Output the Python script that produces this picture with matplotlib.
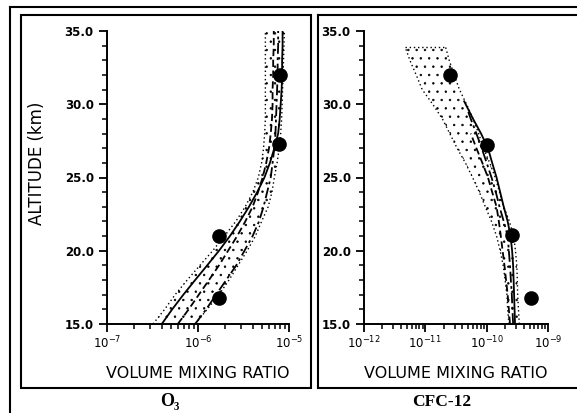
import matplotlib
matplotlib.use('Agg')
import matplotlib.pyplot as plt
from matplotlib.lines import Line2D
from matplotlib.patches import Rectangle
from matplotlib.ticker import LogLocator, MultipleLocator, FormatStrFormatter, NullFormatter

# ── O3 panel (altitude 15..35 km, every km) ──
o3_alt = list(range(15, 36))
o3_band_lo = [3.2e-7, 4.3e-7, 5.6e-7, 7.6e-7, 1.05e-6, 1.45e-6, 1.95e-6, 2.6e-6, 3.3e-6, 4.0e-6,
              4.6e-6, 5.0e-6, 5.25e-6, 5.4e-6, 5.5e-6, 5.5e-6, 5.5e-6, 5.5e-6, 5.5e-6, 5.5e-6, 5.5e-6]
o3_band_hi = [9.3e-7, 1.26e-6, 1.7e-6, 2.19e-6, 2.75e-6, 3.47e-6, 4.27e-6, 5.0e-6, 5.9e-6, 6.5e-6,
              6.9e-6, 7.4e-6, 7.8e-6, 8.1e-6, 8.3e-6, 8.4e-6, 8.5e-6, 8.6e-6, 8.7e-6, 8.8e-6, 8.9e-6]
o3_solid = [4.0e-7, 5.2e-7, 6.9e-7, 9.3e-7, 1.26e-6, 1.7e-6, 2.24e-6, 2.88e-6, 3.63e-6, 4.47e-6,
            5.37e-6, 6.17e-6, 6.9e-6, 7.6e-6, 7.9e-6, 8.1e-6, 8.3e-6, 8.4e-6, 8.4e-6, 8.5e-6, 8.5e-6]
o3_dashed = [6.0e-7, 7.9e-7, 1.02e-6, 1.32e-6, 1.7e-6, 2.14e-6, 2.69e-6, 3.31e-6, 3.98e-6, 4.57e-6,
             5.13e-6, 5.62e-6, 6.03e-6, 6.3e-6, 6.5e-6, 6.6e-6, 6.6e-6, 6.7e-6, 6.7e-6, 6.8e-6, 6.8e-6]
o3_dashdot = [9.3e-7, 1.23e-6, 1.58e-6, 2.04e-6, 2.63e-6, 3.24e-6, 3.98e-6, 4.68e-6, 5.25e-6, 5.75e-6,
              6.3e-6, 6.6e-6, 6.9e-6, 7.1e-6, 7.2e-6, 7.3e-6, 7.4e-6, 7.5e-6, 7.5e-6, 7.6e-6, 7.6e-6]
o3_obs_alt = [32.0, 27.3, 21.0, 16.8]
o3_obs = [8.0e-6, 7.8e-6, 1.7e-6, 1.7e-6]

# ── CFC-12 panel ──
cfc_alt = [15, 16, 17, 18, 19, 20, 21, 22, 23, 24, 25, 26, 27, 28, 29, 30, 31, 32, 33, 33.9]
cfc_band_lo = [2.3e-10, 2.2e-10, 2.14e-10, 2.0e-10, 1.86e-10, 1.66e-10, 1.45e-10, 1.2e-10, 9.5e-11, 7.6e-11,
               5.9e-11, 4.5e-11, 3.3e-11, 2.5e-11, 1.9e-11, 1.32e-11, 8.9e-12, 7.1e-12, 5.6e-12, 4.7e-12]
cfc_band_hi = [3.4e-10, 3.3e-10, 3.2e-10, 3.16e-10, 3.1e-10, 2.95e-10, 2.75e-10, 2.35e-10, 1.9e-10, 1.62e-10,
               1.38e-10, 1.12e-10, 8.9e-11, 7.4e-11, 6.0e-11, 4.7e-11, 3.6e-11, 2.95e-11, 2.45e-11, 2.14e-11]
cfc_solid_alt = [15, 16, 17, 18, 19, 20, 21, 22, 23, 24, 25, 26, 27, 28, 29, 30.2]
cfc_solid = [2.9e-10, 2.85e-10, 2.8e-10, 2.75e-10, 2.7e-10, 2.6e-10, 2.45e-10, 2.2e-10, 1.9e-10, 1.66e-10,
             1.45e-10, 1.23e-10, 1.05e-10, 8.1e-11, 6.0e-11, 4.3e-11]
cfc_dashed_alt = [15, 16, 17, 18, 19, 20, 21, 22, 23, 24, 25, 26, 27, 28]
cfc_dashed = [2.4e-10, 2.3e-10, 2.2e-10, 2.07e-10, 1.95e-10, 1.82e-10, 1.7e-10, 1.58e-10, 1.45e-10, 1.23e-10,
              1.05e-10, 8.5e-11, 6.8e-11, 5.5e-11]
cfc_dashdot_alt = [15, 16, 17, 18, 19, 20, 21, 22, 23, 24, 25, 26, 27, 28, 29, 29.7]
cfc_dashdot = [2.7e-10, 2.63e-10, 2.57e-10, 2.48e-10, 2.4e-10, 2.3e-10, 2.2e-10, 1.9e-10, 1.62e-10, 1.41e-10,
               1.2e-10, 1.0e-10, 8.3e-11, 6.8e-11, 5.5e-11, 4.8e-11]
cfc_obs_alt = [32.0, 27.25, 21.05, 16.8]
cfc_obs = [2.5e-11, 1.0e-10, 2.6e-10, 5.2e-10]

W, H = 577, 413
DOT = (0, (1, 2))
DASH = (0, (4, 2))
DASHDOT = (0, (6, 2, 1.5, 2))


def px(x, y):
    # pixel position -> figure fraction
    return x / W, 1 - y / H


def style_axes(ax, xmin, xmax):
    ax.set_xscale('log')
    ax.set_xlim(xmin, xmax)
    ax.set_ylim(15, 35)
    for s in ('top', 'right'):
        ax.spines[s].set_visible(False)
    for s in ('left', 'bottom'):
        ax.spines[s].set_linewidth(1.4)
    ax.xaxis.set_major_locator(LogLocator(base=10, numticks=10))
    ax.xaxis.set_minor_locator(LogLocator(base=10, subs=range(2, 10), numticks=10))
    ax.xaxis.set_minor_formatter(NullFormatter())
    ax.xaxis.get_offset_text().set_visible(False)
    ax.yaxis.get_offset_text().set_visible(False)
    ax.yaxis.set_major_locator(MultipleLocator(5))
    ax.yaxis.set_minor_locator(MultipleLocator(1))
    ax.yaxis.set_major_formatter(FormatStrFormatter('%.1f'))
    ax.tick_params(which='major', direction='out', length=6, width=1.3, labelsize=8.5)
    ax.tick_params(which='minor', direction='out', length=3.5, width=1.1)
    ax.tick_params(axis='x', which='major', labelsize=8.5, pad=2)
    for lab in ax.get_yticklabels():
        lab.set_fontweight('bold')


def draw_panel(ax, alt, lo, hi, lines, obs, obs_alt):
    ax.fill_betweenx(alt, lo, hi, facecolor='none', edgecolor='black',
                     linewidth=0, hatch='..')
    ax.plot(lo, alt, color='black', linestyle=DOT, linewidth=1.0)
    ax.plot(hi, alt, color='black', linestyle=DOT, linewidth=1.0)
    for xs, ys, ls in lines:
        ax.plot(xs, ys, color='black', linestyle=ls, linewidth=1.3)
    ax.plot(obs, obs_alt, 'o', color='black', markersize=9.5, clip_on=False)


plt.rcParams['hatch.linewidth'] = 0.5
plt.rcParams['font.family'] = 'DejaVu Sans'

fig = plt.figure(figsize=(W / 100, H / 100), dpi=100)

# frames
frame_kw = dict(color='black', linewidth=1.5)
ox, oy = px(10, 7)
fig.add_artist(Line2D([ox, 1], [oy, oy], **frame_kw))
fig.add_artist(Line2D([ox, ox], [oy, 0], **frame_kw))
x0, y0 = px(21, 388)
x1, y1 = px(311, 15)
fig.add_artist(Rectangle((x0, y0), x1 - x0, y1 - y0, fill=False, linewidth=1.5,
                         edgecolor='black', transform=fig.transFigure))
x2, _ = px(318, 0)
fig.add_artist(Line2D([x2, x2], [y0, y1], **frame_kw))
fig.add_artist(Line2D([x2, 1], [y1, y1], **frame_kw))
fig.add_artist(Line2D([x2, 1], [y0, y0], **frame_kw))

bottom = 1 - 324 / H
height = (324 - 31) / H
ax1 = fig.add_axes([107 / W, bottom, (289 - 107) / W, height])
ax2 = fig.add_axes([364 / W, bottom, (548 - 364) / W, height])

draw_panel(ax1, o3_alt, o3_band_lo, o3_band_hi,
           [(o3_solid, o3_alt, '-'),
            (o3_dashed, o3_alt, DASH),
            (o3_dashdot, o3_alt, DASHDOT)],
           o3_obs, o3_obs_alt)
# flat top of the CFC-12 band
ax2.plot([cfc_band_lo[-1], cfc_band_hi[-1]], [cfc_alt[-1], cfc_alt[-1]],
         color='black', linestyle=DOT, linewidth=1.0)
draw_panel(ax2, cfc_alt, cfc_band_lo, cfc_band_hi,
           [(cfc_solid, cfc_solid_alt, '-'),
            (cfc_dashed, cfc_dashed_alt, DASH),
            (cfc_dashdot, cfc_dashdot_alt, DASHDOT)],
           cfc_obs, cfc_obs_alt)

style_axes(ax1, 1e-7, 1e-5)
style_axes(ax2, 1e-12, 1e-9)

fig.text(*px(37, 163), 'ALTITUDE (km)', rotation=90, ha='center', va='center', fontsize=12)
fig.text(*px(198, 373), 'VOLUME MIXING RATIO', ha='center', va='center', fontsize=11.5)
fig.text(*px(456, 373), 'VOLUME MIXING RATIO', ha='center', va='center', fontsize=11.5)
serif = ['Liberation Serif', 'DejaVu Serif']
fig.text(*px(170, 402), 'O₃', ha='center', va='center', fontsize=13,
         fontweight='bold', family=serif)
fig.text(*px(442, 402), 'CFC-12', ha='center', va='center', fontsize=12.5,
         fontweight='bold', family=serif)

fig.savefig('out.png', dpi=100)
